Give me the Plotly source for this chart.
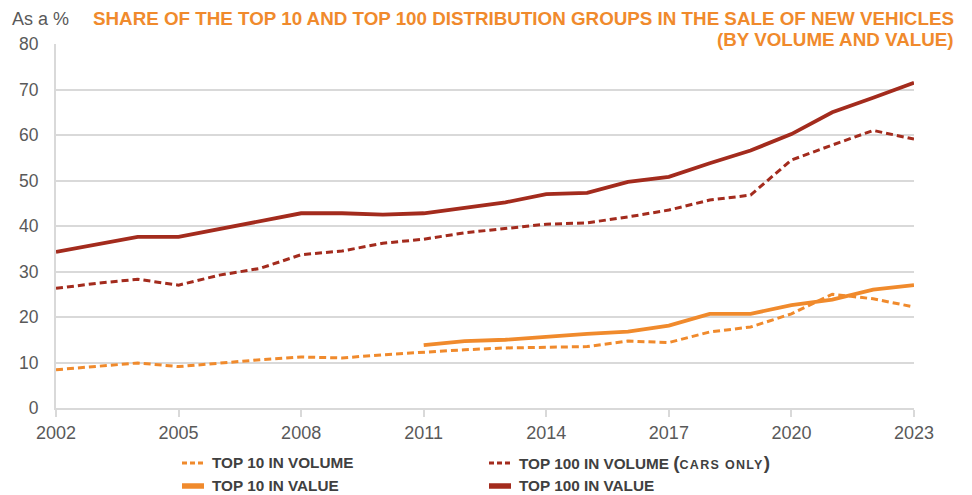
import plotly.graph_objects as go

# Years covered by the series
years = list(range(2002, 2024))
years_value10 = list(range(2011, 2024))

# Shares of new-vehicle sales (%)
top10_volume = [8.4, 9.1, 9.9, 9.1, 9.9, 10.6, 11.2, 11.0, 11.7, 12.3, 12.8, 13.2,
                13.4, 13.5, 14.7, 14.4, 16.7, 17.8, 20.7, 25.0, 24.0, 22.2]
top100_volume = [26.3, 27.4, 28.3, 27.0, 29.2, 30.7, 33.7, 34.5, 36.2, 37.1, 38.5, 39.5,
                 40.4, 40.7, 42.0, 43.5, 45.7, 46.8, 54.5, 57.8, 61.0, 59.1]
top10_value = [13.8, 14.7, 15.0, 15.7, 16.3, 16.8, 18.1, 20.7, 20.7, 22.6, 23.8, 26.0, 27.0]
top100_value = [34.3, 36.0, 37.6, 37.6, 39.3, 40.9, 42.8, 42.8, 42.5, 42.8, 44.0, 45.2,
                47.0, 47.3, 49.7, 50.8, 53.8, 56.6, 60.2, 65.0, 68.2, 71.5]

x_ticks = [2002, 2005, 2008, 2011, 2014, 2017, 2020, 2023]
y_ticks = [0, 10, 20, 30, 40, 50, 60, 70, 80]

ORANGE = "#F08A2C"
DARK_RED = "#A32B1D"
GRID = "#D9D9D9"
TEXT = "#595959"
LEGEND_TEXT = "#404040"
FONT = "Liberation Sans, Arial, sans-serif"

series = [
    ("TOP 10 IN VOLUME", years, top10_volume, ORANGE, "7px,4px", 3),
    ("TOP 100 IN VOLUME (CARS ONLY)", years, top100_volume, DARK_RED, "7px,4px", 3),
    ("TOP 10 IN VALUE", years_value10, top10_value, ORANGE, "solid", 3.8),
    ("TOP 100 IN VALUE", years, top100_value, DARK_RED, "solid", 3.8),
]

fig = go.Figure()
for name, xs, ys, color, dash, width in series:
    fig.add_trace(go.Scatter(
        x=xs, y=ys, mode="lines", name=name, showlegend=False,
        line=dict(color=color, width=width, dash=dash),
    ))

fig.update_layout(
    width=972, height=495,
    margin=dict(l=56, r=58, t=44, b=87),
    paper_bgcolor="white", plot_bgcolor="white",
    font=dict(family=FONT, color=TEXT, size=17),
    xaxis=dict(
        range=[2002, 2023], tickvals=x_ticks, ticktext=[str(t) for t in x_ticks],
        showgrid=False, zeroline=False, showline=True, linecolor=GRID, linewidth=2,
        ticks="outside", ticklen=7, tickcolor=GRID, tickwidth=2,
        tickfont=dict(size=18, color=TEXT),
    ),
    yaxis=dict(
        range=[0, 80], tickvals=y_ticks, showgrid=True, gridcolor=GRID, gridwidth=2,
        zeroline=False, showline=True, linecolor=GRID, linewidth=2,
        ticks="", ticklabelstandoff=12, tickfont=dict(size=17.5, color=TEXT),
    ),
)

# Plot-area pixel geometry for placing the text and legend in paper units
PL, PR, PT, PB = 56, 914, 44, 408
def px(x):
    return (x - PL) / (PR - PL)
def py(y):
    return (PB - y) / (PB - PT)

fig.add_annotation(
    x=px(10), y=py(19), xref="paper", yref="paper", xanchor="left", yanchor="middle",
    text="As a %", showarrow=False, font=dict(size=18, color=TEXT),
)

title_lines = [
    ("SHARE OF THE TOP 10 AND TOP 100 DISTRIBUTION GROUPS IN THE SALE OF NEW VEHICLES", 18),
    ("(BY VOLUME AND VALUE)", 39),
]
for line, ty in title_lines:
    fig.add_annotation(
        x=px(956), y=py(ty), xref="paper", yref="paper", xanchor="right", yanchor="middle",
        showarrow=False, text=f"<b>{line}</b>",
        font=dict(family=FONT, size=18.8, color=ORANGE),
    )

# Custom two-column legend
legend_items = [
    ("TOP 10 IN VOLUME", ORANGE, "dash", 182, 463),
    ("TOP 100 IN VOLUME <span style='font-size:19px'>(</span>"
     "<span style='font-size:12.5px;letter-spacing:1.3px'>CARS ONLY</span>"
     "<span style='font-size:19px'>)</span>",
     DARK_RED, "dash", 489, 463),
    ("TOP 10 IN VALUE", ORANGE, "solid", 182, 486),
    ("TOP 100 IN VALUE", DARK_RED, "solid", 489, 486),
]
for label, color, dash, lx, ly in legend_items:
    fig.add_shape(
        type="line", xref="paper", yref="paper",
        x0=px(lx), x1=px(lx + 22), y0=py(ly), y1=py(ly),
        line=dict(color=color, width=3 if dash == "dash" else 5.5,
                  dash="5px,3px" if dash == "dash" else "solid"),
    )
    fig.add_annotation(
        x=px(lx + 28), y=py(ly), xref="paper", yref="paper", xanchor="left", yanchor="middle",
        text=f"<b>{label}</b>", showarrow=False,
        font=dict(family=FONT, size=15.3, color=LEGEND_TEXT),
    )

fig.write_html("out.html")
